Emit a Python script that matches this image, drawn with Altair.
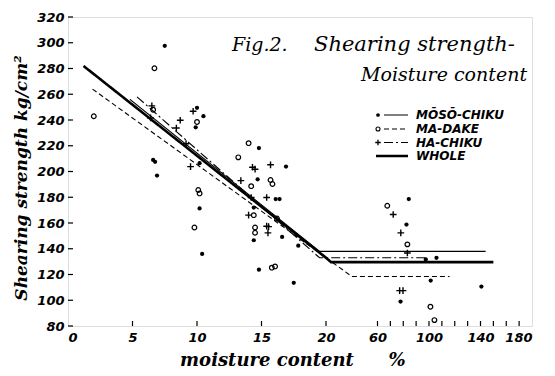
import altair as alt
import pandas as pd

# ---------------- data ----------------
series_names = ["MŌSŌ-CHIKU", "MA-DAKE", "HA-CHIKU", "WHOLE"]

moso_x = [7.5, 10.0, 10.5, 9.9, 14.8, 16.9, 14.7, 6.6, 6.75, 6.9, 10.2, 10.2, 10.4,
          14.4, 14.4, 14.8, 16.1, 16.4, 16.6, 17.85, 17.5,
          84.3, 82.5, 97.5, 105.8, 101.3, 140.7, 77.9]
moso_y = [297.6, 249.5, 243, 234.3, 218.2, 203.8, 193.9, 209, 207.5, 196.8, 206.5, 171.3, 136,
          172, 146.6, 123.7, 178.6, 178.6, 149.2, 142.4, 113.5,
          178.6, 158.8, 131.7, 133, 115.3, 110.6, 99]

madake_x = [6.7, 2.0, 6.6, 10.0, 14.0, 13.2, 15.7, 15.85, 10.1, 10.2, 9.8, 14.2, 14.4,
            14.5, 14.5, 16.2, 15.8, 16.05,
            67.6, 83.2, 101.1, 104.2]
madake_y = [280.2, 242.9, 248, 238.5, 222, 211, 193.4, 190.3, 185.6, 183, 156.5, 188.6, 166.1,
            156.5, 152.4, 163.5, 125.3, 126.3,
            173.4, 143.4, 95, 84.6]

hachiku_x = [6.5, 9.7, 6.4, 8.7, 8.4, 9.15, 9.5, 14.3, 14.5, 15.7, 13.4, 14.2, 15.4,
             14.0, 15.4, 15.55, 15.5,
             72.2, 78.1, 83.2, 77.2, 79.8]
hachiku_y = [251, 246.8, 241.6, 239.8, 233.8, 221.6, 203.8, 203.3, 201.8, 205.2, 192.9, 179.8, 179.8,
             166.1, 157.5, 157.2, 152.3,
             166.6, 152.3, 136.7, 107.5, 107.5]

# fitted lines (bent at the fibre saturation point)
moso_line_x = [4.8, 19.5, 144]
moso_line_y = [256, 138, 138]
madake_line_x = [1.9, 20, 40, 116]
madake_line_y = [264, 133, 118.5, 118.5]
hachiku_line_x = [5.35, 19.5, 98]
hachiku_line_y = [258, 133, 133]
whole_line_x = [1.2, 20, 23.9, 150]
whole_line_y = [282, 133, 129.6, 129.6]

x_label_values = [0, 5, 10, 15, 20, 60, 100, 140, 180]
x_tick_values = [5, 10, 15, 20, 60, 70, 80, 90, 100, 110, 120, 130, 140, 150, 160, 170]
y_tick_values = [80, 100, 120, 140, 160, 180, 200, 220, 240, 260, 280, 300, 320]

# ---------------- layout ----------------
W, H = 464, 309
OX, OY = 68, 17
FONT = "DejaVu Sans"
SERIF = "DejaVu Serif"

xscale = alt.Scale(domain=[0, 20, 180], range=[0, 258, W], nice=False, zero=False)
yscale = alt.Scale(domain=[80, 320], nice=False, zero=False)

xax = alt.Axis(values=x_label_values, ticks=False, domain=False, grid=False, title=None,
               labelFont=FONT, labelFontSize=13, labelFontStyle="italic", labelFontWeight="bold",
               labelPadding=5, labelColor="black")
yax = alt.Axis(values=y_tick_values, ticks=False, domain=False, grid=False, title=None,
               labelFont=FONT, labelFontSize=13, labelFontStyle="italic", labelFontWeight="bold",
               labelPadding=4, labelColor="black")

def pts(xs, ys):
    return pd.DataFrame({"x": xs, "y": ys})

X = alt.X("x:Q", scale=xscale, axis=xax)
Y = alt.Y("y:Q", scale=yscale, axis=yax)

layers = []

# scatter
layers.append(alt.Chart(pts(moso_x, moso_y)).mark_point(
    shape="circle", filled=True, color="black", size=18, opacity=1).encode(x=X, y=Y))
layers.append(alt.Chart(pts(madake_x, madake_y)).mark_point(
    shape="circle", filled=False, color="black", size=22, strokeWidth=1.2, opacity=1).encode(x=X, y=Y))
PLUS = "M-1,0L1,0M0,-1L0,1"
layers.append(alt.Chart(pts(hachiku_x, hachiku_y)).mark_point(
    shape=PLUS, filled=False, color="black", size=45, strokeWidth=1.4, opacity=1).encode(x=X, y=Y))

# lines
line_styles = [
    (moso_line_x, moso_line_y, 1.1, [1, 0]),
    (madake_line_x, madake_line_y, 1.1, [5, 3]),
    (hachiku_line_x, hachiku_line_y, 1.1, [9, 3, 2, 3]),
    (whole_line_x, whole_line_y, 2.6, [1, 0]),
]
for lx, ly, sw, dash in line_styles:
    layers.append(alt.Chart(pts(lx, ly)).mark_line(
        color="black", strokeWidth=sw, strokeDash=dash).encode(x=X, y=Y))

# inward ticks
layers.append(alt.Chart(pd.DataFrame({"x": x_tick_values})).mark_rule(
    color="black", strokeWidth=1.2).encode(x=X, y=alt.value(H), y2=alt.value(H - 5)))
layers.append(alt.Chart(pd.DataFrame({"y": y_tick_values})).mark_rule(
    color="black", strokeWidth=1.2).encode(y=Y, x=alt.value(0), x2=alt.value(5)))

def txt(s, xp, yp, size, font=SERIF, align="left", angle=0, weight="normal", style="italic"):
    return alt.Chart(pd.DataFrame({"t": [s]})).mark_text(
        align=align, baseline="middle", font=font, fontSize=size, fontStyle=style,
        fontWeight=weight, color="black", angle=angle
    ).encode(text="t:N", x=alt.value(xp - OX), y=alt.value(yp - OY))

# title inside the plot
layers.append(txt("Fig.2.", 232, 45, 19))
layers.append(txt("Shearing strength-", 314, 45, 21))
layers.append(txt("Moisture content", 361, 75, 19))

# legend
leg_rows = [115, 129, 142.5, 156]
leg_shapes = ["dot", "circle", "plus", None]
for name, yrow, shp, (lx, ly, sw, dash) in zip(series_names, leg_rows, leg_shapes, line_styles):
    x0 = 384 if shp else 376
    layers.append(alt.Chart(pd.DataFrame({"a": [0]})).mark_rule(
        color="black", strokeWidth=sw, strokeDash=dash).encode(
        x=alt.value(x0 - OX), x2=alt.value(408 - OX), y=alt.value(yrow - OY)))
    if shp == "dot":
        layers.append(alt.Chart(pd.DataFrame({"a": [0]})).mark_point(
            shape="circle", filled=True, color="black", size=14, opacity=1).encode(
            x=alt.value(378 - OX), y=alt.value(yrow - OY)))
    elif shp == "circle":
        layers.append(alt.Chart(pd.DataFrame({"a": [0]})).mark_point(
            shape="circle", filled=False, color="black", size=16, strokeWidth=1.1, opacity=1).encode(
            x=alt.value(378 - OX), y=alt.value(yrow - OY)))
    elif shp == "plus":
        layers.append(alt.Chart(pd.DataFrame({"a": [0]})).mark_point(
            shape=PLUS, filled=False, color="black", size=30, strokeWidth=1.3, opacity=1).encode(
            x=alt.value(378 - OX), y=alt.value(yrow - OY)))
    layers.append(txt(name, 416, yrow, 12, font=FONT, weight="bold"))

# axis titles
layers.append(txt("Shearing strength   kg/cm²", 22, 178, 17, align="center", angle=270, weight="bold"))
layers.append(txt("moisture content", 267, 361, 18, align="center", weight="bold"))
layers.append(txt("%", 397, 361, 18, align="center", weight="bold"))

chart = alt.layer(*layers).properties(
    width=W, height=H,
    autosize=alt.AutoSizeParams(type="none"),
    padding={"left": OX, "top": OY, "right": 555 - OX - W, "bottom": 376 - OY - H},
).configure_view(stroke="black", strokeWidth=1.4).configure(background="white")

chart.save("out.html", embed_options={"renderer": "svg", "actions": False})
